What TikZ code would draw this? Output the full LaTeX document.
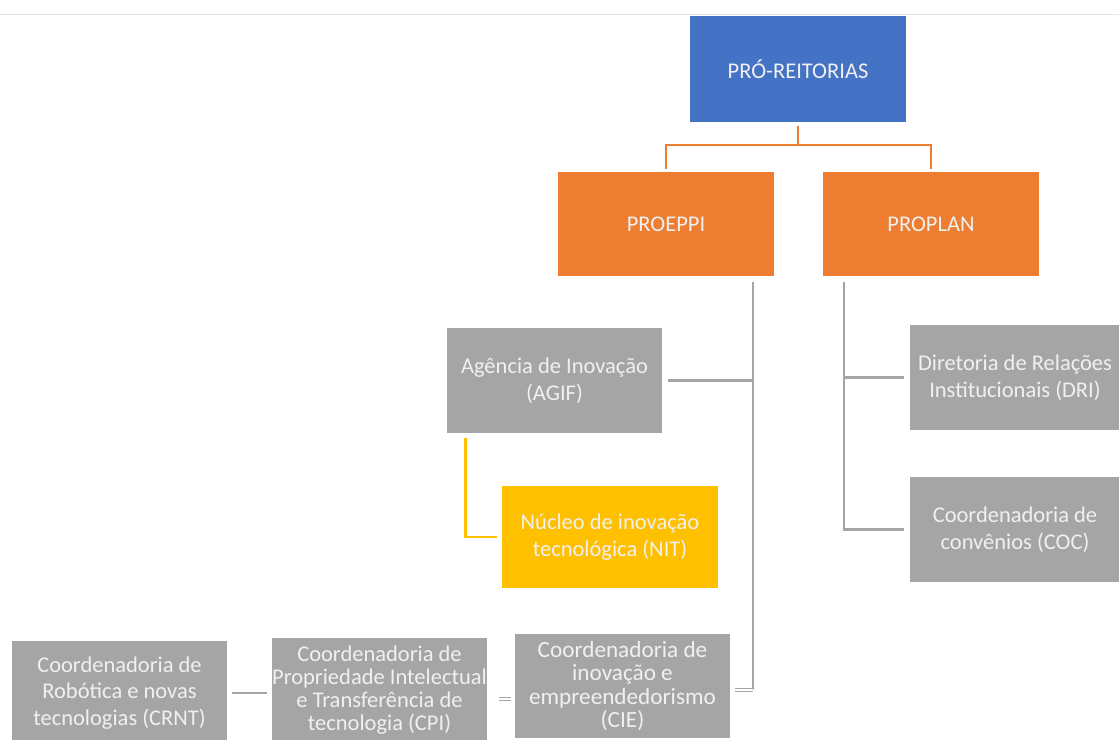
\documentclass[tikz,border=0pt]{standalone}
\usepackage{fontspec}
\setmainfont{Carlito}
\usetikzlibrary{calc}
\usetikzlibrary{positioning}
\definecolor{problue}{HTML}{4472C4}
\definecolor{proorange}{HTML}{ED7D31}
\definecolor{progray}{HTML}{A5A5A5}
\definecolor{proyellow}{HTML}{FFC000}

\begin{document}
\begin{tikzpicture}[x=0.025cm, y=-0.025cm]
 \tikzstyle{orgbox}=[rectangle, inner sep=0pt, minimum width=5.375cm, minimum height=2.6cm, align=center, text=white!94!black, font=\fontsize{16}{19}\selectfont]
 \tikzstyle{smalltxt}=[font=\fontsize{16}{16.2}\selectfont]
 \tikzstyle{bluebox}=[orgbox, fill=problue]
 \tikzstyle{orangebox}=[orgbox, fill=proorange]
 \tikzstyle{graybox}=[orgbox, fill=progray]
 \tikzstyle{yellowbox}=[orgbox, fill=proyellow]
 \tikzstyle{oline}=[draw=proorange, line width=1.8pt]
 \tikzstyle{gline}=[draw=progray, line width=1.8pt]
 \tikzstyle{yline}=[draw=proyellow, line width=1.8pt]
 \tikzstyle{dline}=[draw=progray, line width=0.9pt, double=white, double distance=1.4pt]

 \clip (0,0) rectangle (1119,740);
 \draw[gray!20, line width=0.6pt] (0,14) -- (1119,14);

 % top level
 \draw (798,69) node[bluebox, minimum height=2.65cm] (pro) {PRÓ-REITORIAS};
 \draw (666,224) node[orangebox] (proeppi) {PROEPPI};
 \draw (931,224) node[orangebox] (proplan) {PROPLAN};
 \coordinate (obus) at (798,145);
 \path[oline, shorten <=0.1cm] (pro.south) -- (obus);
 \path[oline, shorten <=0.06cm, shorten >=0.06cm] (proeppi.north) |- (obus) -| (proplan.north);

 % PROEPPI side
 \draw (554.5,380.5) node[graybox] (agif) {Agência de Inovação\\(AGIF)};
 \draw (610,537) node[yellowbox, minimum height=2.55cm] (nit) {Núcleo de inovação\\tecnológica (NIT)};
 \coordinate (ltop) at (753,282);
 \coordinate (lbot) at (753,690);
 \path[gline] (ltop) -- (lbot);
 \path[gline, shorten <=0.15cm] (agif.east) -- (agif.east -| ltop);
 \path[yline, shorten <=0.12cm, shorten >=0.12cm] ([xshift=0.475cm]agif.south west) |- (nit.west);

 % bottom row
 \draw (119.5,693) node[graybox] (crnt) {Coordenadoria de\\Robótica e novas\\tecnologias (CRNT)};
 \draw (379.5,690) node[graybox, smalltxt] (cpi) {Coordenadoria de\\Propriedade Intelectual\\e Transferência de\\tecnologia (CPI)};
 \draw (622.5,686) node[graybox, smalltxt, font=\fontsize{16.5}{16.5}\selectfont] (cie) {Coordenadoria de\\inovação e\\empreendedorismo\\(CIE)};
 \path[dline, shorten >=0.12cm] (lbot) -- (lbot -| cie.east);
 \path[dline, shorten <=0.3cm, shorten >=0.1cm] ([yshift=-0.225cm]cpi.east) -- ([yshift=-0.225cm]cpi.east -| cie.west);
 \path[gline, line width=1.4pt, shorten <=0.12cm, shorten >=0.12cm] (crnt.east) -- (crnt.east -| cpi.west);

 % PROPLAN side
 \draw (1015,377.5) node[graybox, minimum width=5.225cm] (dri) {Diretoria de Relações\\Institucionais (DRI)};
 \draw (1015,529.5) node[graybox, minimum width=5.225cm] (coc) {Coordenadoria de\\convênios (COC)};
 \coordinate (rtop) at (844,282);
 \path[gline, shorten >=0.15cm] (rtop) |- (coc.west);
 \path[gline, shorten >=0.15cm] (rtop |- dri.west) -- (dri.west);
\end{tikzpicture}
\end{document}
